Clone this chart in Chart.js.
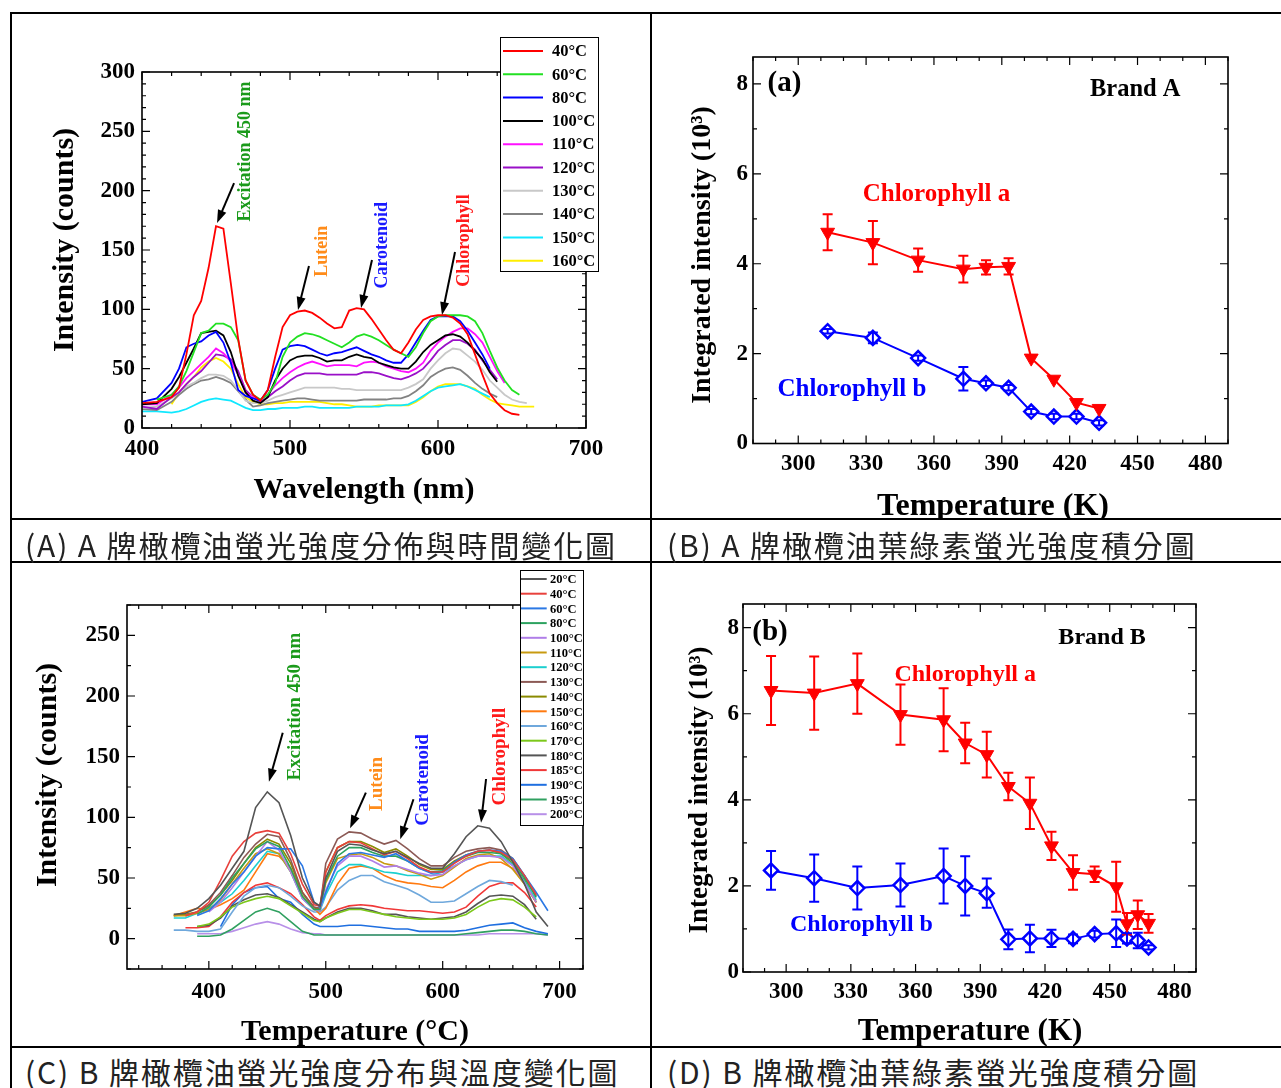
<!DOCTYPE html>
<html>
<head>
<meta charset="utf-8">
<script src="https://cdn.jsdelivr.net/npm/chart.js@4.4.1/dist/chart.umd.min.js"></script>
<style>
  body { margin: 0; background: #fff; width: 1281px; height: 1088px; position: relative; overflow: hidden; }
  canvas { position: absolute; }
  .rule { position: absolute; background: #000; }
  .cap { position: absolute; font-family: "Noto Sans CJK TC", sans-serif; font-size: 30px; line-height: 30px; letter-spacing: 1.9px; color: #222; white-space: nowrap; }
</style>
</head>
<body>
<div class="rule" style="left:10px;top:12px;width:1271px;height:2px"></div>
<div class="rule" style="left:10px;top:12px;width:2px;height:1076px"></div>
<div class="rule" style="left:650px;top:12px;width:2px;height:1076px"></div>
<div class="rule" style="left:10px;top:518px;width:1271px;height:2px"></div>
<div class="rule" style="left:10px;top:561px;width:1271px;height:2px"></div>
<div class="rule" style="left:10px;top:1046px;width:1271px;height:2px"></div>

<canvas id="cA" width="638" height="503" style="left:12px;top:15px"></canvas>
<canvas id="cB" width="627" height="503" style="left:652px;top:15px"></canvas>
<canvas id="cC" width="638" height="481" style="left:12px;top:565px"></canvas>
<canvas id="cD" width="627" height="481" style="left:652px;top:565px"></canvas>

<div class="cap" style="left:25px;top:529px">(A) A 牌橄欖油螢光強度分佈與時間變化圖</div>
<div class="cap" style="left:667px;top:529px">(B) A 牌橄欖油葉綠素螢光強度積分圖</div>
<div class="cap" style="left:25px;top:1056px">(C) B 牌橄欖油螢光強度分布與溫度變化圖</div>
<div class="cap" style="left:667px;top:1056px">(D) B 牌橄欖油葉綠素螢光強度積分圖</div>

<script>
const SERIF = '"Liberation Serif", "Times New Roman", serif';
Chart.defaults.font.family = SERIF;
Chart.defaults.color = "#000";

// ---- panel A: brand A spectra vs wavelength
const wlA = [400,410,420,425,430,435,440,445,450,455,460,465,470,475,480,485,490,495,500,505,510,515,520,525,530,535,540,545,550,555,560,565,570,575,580,585,590,595,600,605,610,615,620,625,630,635,640,645,650,655,660,665];
const labelsA = ["40°C","60°C","80°C","100°C","110°C","120°C","130°C","140°C","150°C","160°C"];
const colorsA = ["#ff0000","#22e022","#0000ff","#000000","#ff10ff","#9a10c8","#c8c8c8","#828282","#10e8ff","#ffee00"];
const a40 = [21,22,26,34,62,95,107,135,170,168, 122,75,40,28,23,32,60,85,95,98, 99,97,93,88,84,85,99,101,100,92, 83,74,66,63,72,83,91,94,95,95, 93,88,79,62,45,29,21,15,12,11, null,null];
const a60 = [null,24,28,35,48,64,80,82,88,88, 85,74,40,28,24,28,38,60,72,77, 80,79,77,74,71,68,72,77,79,77, 74,70,66,63,60,68,80,90,94,95, 95,95,94,90,80,65,51,40,32,28, null,null];
const a80 = [22,25,38,50,68,71,73,78,81,72, 55,32,27,25,23,32,50,66,69,70, 69,66,63,61,63,64,66,68,65,62, 60,57,55,55,62,72,82,91,94,94, 94,90,82,72,62,50,null,null,null,null, null,null];
const a100 = [20,21,33,43,55,67,80,81,82,78, 64,44,30,23,21,26,40,50,57,60, 61,61,59,56,57,57,60,62,60,59, 55,53,51,50,50,56,64,70,74,78, 79,77,72,65,58,47,39,null,null,null, null,null];
const a110 = [20,20,28,34,42,48,54,60,67,63, 56,45,30,26,24,28,36,42,47,51, 54,56,54,52,53,53,53,52,55,56, 55,52,50,48,47,50,55,65,72,77, 81,84,84,79,72,60,48,38,null,null, null,null];
const a120 = [18,16,26,30,37,43,48,55,62,61, 58,48,32,26,22,26,31,35,40,44, 46,46,46,45,45,45,45,45,47,47, 46,44,42,41,43,46,50,57,65,70, 74,74,71,66,57,49,41,null,null,null, null,null];
const a130 = [17,18,25,30,35,38,42,45,45,44, 40,32,23,21,21,23,26,28,30,32, 34,34,34,34,34,33,33,32,32,32, 32,32,32,32,34,37,41,50,57,63, 67,66,61,56,49,40,34,28,24,22, 21,null];
const a140 = [16,15,22,28,33,37,40,41,43,41, 38,31,24,18,19,21,22,23,24,25, 25,24,23,23,23,23,23,23,24,24, 24,24,25,25,27,31,36,43,47,50, 51,49,44,38,33,29,26,null,null,null, null,null];
const a150 = [14,14,13,14,16,19,22,24,25,24, 23,20,17,15,15,16,16,17,17,17, 18,18,17,17,17,17,17,18,18,18, 18,19,19,19,20,23,27,31,34,35, 36,37,35,32,29,26,null,null,null,null, null,null];
const a160 = [null,null,20,30,37,43,51,56,59,56, 50,37,26,22,20,20,21,21,22,22, 22,22,22,21,20,20,19,18,18,18, 19,19,19,19,19,22,26,31,35,37, 37,37,35,33,28,24,21,20,19,18, 18,18];
const seriesA = [a40,a60,a80,a100,a110,a120,a130,a140,a150,a160];
const xTicksA = [400,500,600,700];
const yTicksA = [0,50,100,150,200,250,300];

// ---- panel B: brand A integrated intensity
const tempA = [313,333,353,373,383,393,403,413,423,433];
const chlaA = [4.70,4.47,4.08,3.88,3.92,3.94,1.90,1.43,0.91,0.78];
const chlaAErr = [0.40,0.48,0.26,0.30,0.16,0.18,0,0,0,0];
const chlbA = [2.50,2.35,1.90,1.44,1.34,1.24,0.71,0.60,0.60,0.46];
const chlbAErr = [0.05,0.12,0.06,0.26,0.06,0.06,0.06,0.06,0.06,0.06];
const xTicksK = [300,330,360,390,420,450,480];
const yTicksK = [0,2,4,6,8];

// ---- panel C: brand B spectra
const wlC = [370,380,390,400,410,420,430,440,450,460,470,480,490,495,500,510,520,530,540,550,560,570,580,590,600,610,620,630,640,650,660,670,680,690];
const labelsC = ["20°C","40°C","60°C","80°C","100°C","110°C","120°C","130°C","140°C","150°C","160°C","170°C","180°C","185°C","190°C","195°C","200°C"];
const colorsC = ["#555555","#e8413c","#2b78e4","#2ca25f","#b07ee8","#c89a10","#1ccfcf","#8c5a55","#8a8a00","#ff7a10","#6fa8dc","#7cc81a","#555555","#f03838","#1f6fe0","#30a060","#b890e8"];
const c20 = [20,21,25,33,44,58,72,108,121,112, 85,50,30,27,50,72,78,77,73,70, 72,67,62,58,58,70,84,93,91,80, 63,45,22,10];
const c40 = [null,19,22,30,48,68,80,87,89,87, 70,45,28,27,55,75,80,79,74,69, 72,66,59,55,55,62,68,72,73,71, 65,52,36,null];
const c60 = [null,null,19,23,33,45,55,68,75,74, 74,60,30,26,38,62,70,71,69,67, 70,64,58,54,55,63,69,72,73,72, 66,52,38,23];
const c80 = [null,null,20,26,36,50,62,74,80,76, 58,35,24,24,48,68,75,75,71,68, 68,64,58,55,56,63,68,71,71,70, 64,50,34,null];
const c100 = [null,null,null,22,30,42,55,68,80,73, 55,33,24,23,40,60,68,68,64,59, 60,57,54,52,53,60,65,68,68,67, 60,46,30,null];
const c110 = [19,19,21,24,32,45,58,70,74,70, 55,35,24,23,46,66,69,70,67,62, 60,56,53,49,52,59,66,69,70,66, 57,45,30,null];
const c120 = [17,17,21,25,30,37,48,60,72,70, 55,33,24,23,36,55,61,61,58,55, 54,52,52,52,55,60,65,68,68,68, 61,47,32,null];
const c130 = [null,19,22,28,38,52,67,78,86,84, 65,38,26,25,62,82,88,87,82,78, 81,74,66,60,60,67,72,74,75,73, 66,52,35,null];
const c140 = [19,20,22,27,36,48,62,75,82,78, 62,38,25,25,55,75,80,80,76,71, 74,68,61,57,57,64,69,72,73,70, 62,48,30,null];
const c150 = [19,22,25,24,28,33,40,55,70,68, 58,38,25,20,25,45,58,60,58,52, 48,46,45,43,42,48,55,60,63,63, 58,45,30,null];
const c160 = [7,7,6,6,8,22,35,42,44,42, 35,27,22,22,26,40,48,52,52,47, 44,41,36,30,30,31,37,43,48,47, 44,null,null,null];
const c170 = [null,null,10,12,18,26,30,33,35,33, 27,21,15,14,17,21,24,24,22,20, 18,17,16,16,16,17,20,26,31,33, 32,26,18,null];
const c180 = [null,null,10,11,17,27,32,36,37,34, 28,22,16,14,17,22,25,25,23,20, 20,18,17,16,17,18,22,29,35,36, 35,28,16,null];
const c185 = [null,9,9,10,18,30,38,44,46,42, 37,28,18,15,19,24,27,28,27,25, 24,23,23,22,21,22,26,35,43,46, 46,38,26,null];
const c190 = [null,null,null,null,10,28,38,42,43,33, 30,20,12,10,10,10,11,11,10,9, 8,8,6,6,6,6,7,9,11,12, 13,9,6,4];
const c195 = [null,null,2,2,3,8,15,22,25,22, 14,6,3,3,3,3,3,3,3,3, 3,3,3,3,3,3,4,5,6,7, 7,6,4,3];
const c200 = [null,null,4,4,4,6,9,12,14,12, 8,5,4,4,3,3,3,3,3,3, 3,3,3,3,3,3,3,3,4,4, 4,4,4,3];
const seriesC = [c20,c40,c60,c80,c100,c110,c120,c130,c140,c150,c160,c170,c180,c185,c190,c195,c200];
const yTicksC = [0,50,100,150,200,250];

// ---- panel D: brand B integrated intensity
const tempB = [293,313,333,353,373,383,393,403,413,423,433,443,453,458,463,468];
const chlaB = [6.54,6.48,6.70,5.98,5.86,5.32,5.05,4.31,3.92,2.93,2.31,2.27,1.98,1.12,1.33,1.13];
const chlaBErr = [0.80,0.85,0.70,0.70,0.73,0.47,0.53,0.32,0.60,0.33,0.40,0.18,0.58,0.25,0.33,0.22];
const chlbB = [2.36,2.18,1.95,2.02,2.23,2.00,1.83,0.76,0.78,0.78,0.77,0.88,0.90,0.78,0.73,0.57];
const chlbBErr = [0.45,0.55,0.50,0.50,0.64,0.69,0.34,0.23,0.32,0.20,0.10,0.08,0.32,0.12,0.18,0.05];

function points(xs, ys) {
  return xs.map((x, i) => ({ x: x, y: ys[i] })).filter(p => p.y !== null);
}

function stepsIn(min, max, step) {
  const out = [];
  for (let v = Math.ceil(min / step - 1e-9) * step; v <= max + 1e-9; v += step) out.push(v);
  return out;
}

// frame, inward ticks, titles, notes, arrows, legend, error bars
const panelPlugin = {
  id: "panel",
  afterDatasetsDraw(chart) {
    const ctx = chart.ctx, xs = chart.scales.x, ys = chart.scales.y;
    chart.data.datasets.forEach(ds => {
      if (!ds.err) return;
      ctx.save();
      ctx.strokeStyle = ds.borderColor;
      ctx.lineWidth = 2;
      ctx.beginPath();
      ds.data.forEach((p, i) => {
        const e = ds.err[i];
        if (!e) return;
        const x = xs.getPixelForValue(p.x);
        const y1 = ys.getPixelForValue(p.y - e), y2 = ys.getPixelForValue(p.y + e);
        ctx.moveTo(x, y1); ctx.lineTo(x, y2);
        ctx.moveTo(x - 5, y1); ctx.lineTo(x + 5, y1);
        ctx.moveTo(x - 5, y2); ctx.lineTo(x + 5, y2);
      });
      ctx.stroke();
      ctx.restore();
    });
  },
  afterDraw(chart, args, o) {
    const ctx = chart.ctx, a = chart.chartArea, xs = chart.scales.x, ys = chart.scales.y;
    ctx.save();
    ctx.strokeStyle = "#000";
    ctx.lineWidth = 1.6;
    ctx.strokeRect(a.left, a.top, a.right - a.left, a.bottom - a.top);

    ctx.lineWidth = 1.2;
    ctx.beginPath();
    const xt = (vals, len) => vals.forEach(v => {
      const x = xs.getPixelForValue(v);
      ctx.moveTo(x, a.bottom); ctx.lineTo(x, a.bottom - len);
      ctx.moveTo(x, a.top); ctx.lineTo(x, a.top + len);
    });
    const yt = (vals, len) => vals.forEach(v => {
      const y = ys.getPixelForValue(v);
      ctx.moveTo(a.left, y); ctx.lineTo(a.left + len, y);
      ctx.moveTo(a.right, y); ctx.lineTo(a.right - len, y);
    });
    xt(stepsIn(xs.min, xs.max, o.xMinor), 4);
    xt(xs.ticks.map(t => t.value), 8);
    yt(stepsIn(ys.min, ys.max, o.yMinor), 4);
    yt(ys.ticks.map(t => t.value), 8);
    ctx.stroke();

    ctx.fillStyle = "#000";
    ctx.textAlign = "center";
    ctx.textBaseline = "middle";
    o.titles.forEach(t => {
      ctx.save();
      ctx.font = "bold " + t.size + "px " + SERIF;
      ctx.translate(t.x, t.y);
      if (t.rot) ctx.rotate(-Math.PI / 2);
      ctx.fillText(t.text, 0, 0);
      ctx.restore();
    });

    (o.notes || []).forEach(n => {
      ctx.save();
      ctx.font = "bold " + n.size + "px " + SERIF;
      ctx.fillStyle = n.color || "#000";
      ctx.translate(xs.getPixelForValue(n.x), ys.getPixelForValue(n.y));
      if (n.rot) {
        ctx.rotate(-Math.PI / 2);
        ctx.textAlign = "center";
      } else {
        ctx.textAlign = "left";
      }
      ctx.fillText(n.text, 0, 0);
      ctx.restore();
    });

    (o.arrows || []).forEach(r => {
      const x1 = xs.getPixelForValue(r[0]), y1 = ys.getPixelForValue(r[1]);
      const x2 = xs.getPixelForValue(r[2]), y2 = ys.getPixelForValue(r[3]);
      const ang = Math.atan2(y2 - y1, x2 - x1);
      ctx.strokeStyle = "#000";
      ctx.lineWidth = 2;
      ctx.beginPath();
      ctx.moveTo(x1, y1);
      ctx.lineTo(x2 - 8 * Math.cos(ang), y2 - 8 * Math.sin(ang));
      ctx.stroke();
      ctx.beginPath();
      ctx.moveTo(x2, y2);
      ctx.lineTo(x2 - 13 * Math.cos(ang) + 4.5 * Math.sin(ang), y2 - 13 * Math.sin(ang) - 4.5 * Math.cos(ang));
      ctx.lineTo(x2 - 13 * Math.cos(ang) - 4.5 * Math.sin(ang), y2 - 13 * Math.sin(ang) + 4.5 * Math.cos(ang));
      ctx.closePath();
      ctx.fillStyle = "#000";
      ctx.fill();
    });

    const lg = o.legend;
    if (lg) {
      ctx.fillStyle = "#fff";
      ctx.fillRect(lg.box[0], lg.box[1], lg.box[2], lg.box[3]);
      ctx.strokeStyle = "#000";
      ctx.lineWidth = 1;
      ctx.strokeRect(lg.box[0] + 0.5, lg.box[1] + 0.5, lg.box[2], lg.box[3]);
      ctx.font = "bold " + lg.size + "px " + SERIF;
      ctx.textAlign = "left";
      chart.data.datasets.forEach((ds, i) => {
        const y = lg.y0 + i * lg.dy;
        ctx.strokeStyle = ds.borderColor;
        ctx.lineWidth = 2;
        ctx.beginPath();
        ctx.moveTo(lg.x1, y); ctx.lineTo(lg.x2, y);
        ctx.stroke();
        ctx.fillStyle = "#000";
        ctx.fillText(ds.label, lg.tx, y + 1);
      });
    }
    ctx.restore();
  }
};

function scaleOpts(range, ticks, fit, pad, size, isX) {
  return {
    type: "linear",
    min: range[0],
    max: range[1],
    grid: { display: false, drawTicks: false },
    border: { display: false },
    afterBuildTicks: s => { s.ticks = ticks.map(v => ({ value: v })); },
    afterFit: s => { if (isX) s.height = fit; else s.width = fit; },
    ticks: { font: { weight: "bold", size: size }, color: "#000", padding: pad, autoSkip: false, maxRotation: 0 }
  };
}

function makeChart(id, datasets, pad, xs, ys, panel) {
  return new Chart(document.getElementById(id), {
    type: "line",
    data: { datasets: datasets },
    options: {
      responsive: false,
      animation: false,
      layout: { padding: { top: pad.top, right: pad.right, left: 0, bottom: 0 } },
      elements: { line: { tension: 0 } },
      plugins: { legend: { display: false }, tooltip: { enabled: false }, panel: panel },
      scales: { x: xs, y: ys }
    },
    plugins: [panelPlugin]
  });
}

// A
makeChart("cA",
  seriesA.map((s, i) => ({ label: labelsA[i], data: points(wlA, s), borderColor: colorsA[i], borderWidth: 1.8, pointRadius: 0, fill: false })),
  { top: 57, right: 64 },
  scaleOpts([400, 700], xTicksA, 90, 7, 23, true),
  scaleOpts([0, 300], yTicksA, 130, 7, 23, false),
  {
    xMinor: 20, yMinor: 10,
    titles: [
      { text: "Intensity (counts)", x: 53, y: 225, rot: true, size: 30 },
      { text: "Wavelength (nm)", x: 352, y: 475, size: 30 }
    ],
    notes: [
      { text: "Excitation 450 nm", x: 469.6, y: 233, color: "#1a9a1a", size: 18, rot: true },
      { text: "Lutein", x: 521.6, y: 149, color: "#ff8c1a", size: 18, rot: true },
      { text: "Carotenoid", x: 562.2, y: 154, color: "#1a1aff", size: 18, rot: true },
      { text: "Chlorophyll", x: 618, y: 158, color: "#ff1a1a", size: 18, rot: true }
    ],
    arrows: [[462.2, 206.4, 450.7, 172.7], [512.8, 136.5, 505.4, 99.4], [555.4, 141.5, 548, 101.1], [611.5, 148.3, 602.7, 95.2]],
    legend: { box: [488, 22, 98, 234], y0: 36, dy: 23.3, x1: 491, x2: 531, tx: 540, size: 16.5 }
  });

// B
makeChart("cB", [
    { label: "Chlorophyll a", data: points(tempA, chlaA), err: chlaAErr, borderColor: "#ff0000", backgroundColor: "#ff0000", borderWidth: 2, pointStyle: "triangle", pointRotation: 180, pointRadius: 8, pointBorderWidth: 1 },
    { label: "Chlorophyll b", data: points(tempA, chlbA), err: chlbAErr, borderColor: "#0000ff", backgroundColor: "#ffffff", borderWidth: 2, pointStyle: "rectRot", pointRadius: 7, pointBorderWidth: 2.5 }
  ],
  { top: 42, right: 51 },
  scaleOpts([280, 490], xTicksK, 74.5, 7, 23, true),
  scaleOpts([0, 8.6], yTicksK, 101, 5, 23, false),
  {
    xMinor: 10, yMinor: 1,
    titles: [
      { text: "Integrated intensity (10³)", x: 51, y: 240, rot: true, size: 28 },
      { text: "Temperature (K)", x: 341, y: 492, size: 32 }
    ],
    notes: [
      { text: "(a)", x: 286.4, y: 8.0, size: 29 },
      { text: "Brand A", x: 429, y: 7.87, size: 24.5 },
      { text: "Chlorophyll a", x: 328.5, y: 5.54, color: "#ff0000", size: 25 },
      { text: "Chlorophyll b", x: 290.8, y: 1.21, color: "#0000ff", size: 25 }
    ]
  });

// C
makeChart("cC",
  seriesC.map((s, i) => ({ label: labelsC[i], data: points(wlC, s), borderColor: colorsC[i], borderWidth: 1.6, pointRadius: 0, fill: false })),
  { top: 40, right: 67 },
  scaleOpts([330, 720], xTicksA, 77, 9, 23, true),
  scaleOpts([-25, 275], yTicksC, 115, 7, 23, false),
  {
    xMinor: 20, yMinor: 25,
    titles: [
      { text: "Intensity (counts)", x: 36, y: 210, rot: true, size: 30 },
      { text: "Temperature (°C)", x: 343, y: 467, size: 30 }
    ],
    notes: [
      { text: "Excitation 450 nm", x: 473.7, y: 191.2, color: "#1a9a1a", size: 19, rot: true },
      { text: "Lutein", x: 543.7, y: 127.5, color: "#ff8c1a", size: 19, rot: true },
      { text: "Carotenoid", x: 583.6, y: 130.8, color: "#1a1aff", size: 19, rot: true },
      { text: "Chlorophyll", x: 649.4, y: 150, color: "#ff1a1a", size: 19, rot: true }
    ],
    arrows: [[463.2, 169.7, 451.4, 129.4], [534.3, 120.3, 520.8, 91], [575, 114.9, 563.7, 82], [637.1, 131.6, 632.8, 95.6]],
    legend: { box: [508, 5, 63, 255], y0: 14, dy: 14.7, x1: 509, x2: 534.7, tx: 538, size: 12.5 }
  });

// D
makeChart("cD", [
    { label: "Chlorophyll a", data: points(tempB, chlaB), err: chlaBErr, borderColor: "#ff0000", backgroundColor: "#ff0000", borderWidth: 2, pointStyle: "triangle", pointRotation: 180, pointRadius: 8, pointBorderWidth: 1 },
    { label: "Chlorophyll b", data: points(tempB, chlbB), err: chlbBErr, borderColor: "#0000ff", backgroundColor: "#ffffff", borderWidth: 2, pointStyle: "rectRot", pointRadius: 7, pointBorderWidth: 2.5 }
  ],
  { top: 39, right: 83 },
  scaleOpts([280, 490], xTicksK, 74, 6, 23, true),
  scaleOpts([0, 8.55], yTicksK, 91, 4, 23, false),
  {
    xMinor: 10, yMinor: 1,
    titles: [
      { text: "Integrated intensity (10³)", x: 48, y: 225, rot: true, size: 27 },
      { text: "Temperature (K)", x: 318, y: 467, size: 31 }
    ],
    notes: [
      { text: "(b)", x: 284.3, y: 7.88, size: 29 },
      { text: "Brand B", x: 426.2, y: 7.77, size: 24 },
      { text: "Chlorophyll a", x: 350.2, y: 6.91, color: "#ff0000", size: 24 },
      { text: "Chlorophyll b", x: 301.8, y: 1.09, color: "#0000ff", size: 24 }
    ]
  });
</script>
</body>
</html>
